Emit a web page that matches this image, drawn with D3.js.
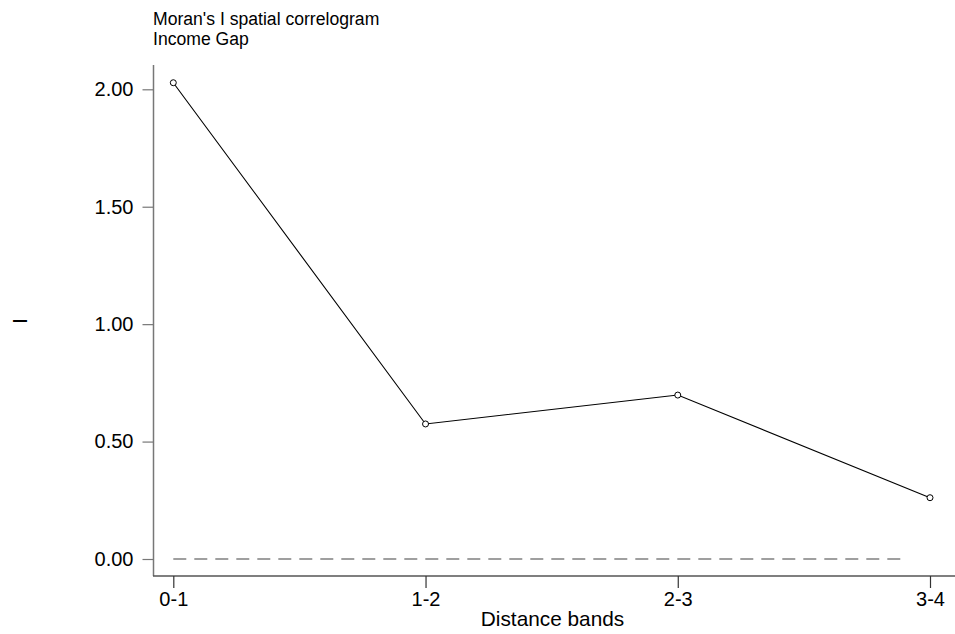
<!DOCTYPE html>
<html><head><meta charset="utf-8">
<script src="https://cdn.jsdelivr.net/npm/d3@7"></script>
<style>body{margin:0;background:#fff}svg{display:block}text{font-family:"Liberation Sans",Arial,sans-serif}</style>
</head><body>
<svg id="c" width="955" height="634"></svg>
<script>
const categories = ["0-1","1-2","2-3","3-4"];
const moransI = [2.028, 0.575, 0.698, 0.261];
const yTicks = [0, 0.5, 1, 1.5, 2];
const titleLines = ["Moran's I spatial correlogram","Income Gap"];

const svg = d3.select("#c");
const x = d3.scalePoint().domain(categories).range([173.3, 930]);
const y = d3.scaleLinear().domain([0, 2]).range([559, 89.3]);

// titles
svg.selectAll("text.title").data(titleLines).join("text")
  .attr("x", 153).attr("y", (d,i)=>25 + i*19.5)
  .attr("font-size", 17.6).attr("fill", "#000").text(d=>d);

// y axis
const yAx = svg.append("g").attr("transform","translate(153.5,0)")
  .call(d3.axisLeft(y).tickValues(yTicks).tickFormat(d3.format(".2f")).tickSize(11).tickPadding(9).tickSizeOuter(0));
yAx.select(".domain").attr("d","M0,65V576").attr("stroke","#777").attr("stroke-width",1.5);
yAx.selectAll(".tick line").attr("stroke","#777").attr("stroke-width",1.2);
yAx.selectAll(".tick text").attr("font-size",20).attr("fill","#000").attr("font-family","Liberation Sans, Arial, sans-serif");

// x axis
const xAx = svg.append("g").attr("transform","translate(0,576)")
  .call(d3.axisBottom(x).tickSize(12).tickPadding(4).tickSizeOuter(0));
xAx.select(".domain").attr("d","M153,0H955").attr("stroke","#555").attr("stroke-width",1.5);
xAx.selectAll(".tick line").attr("stroke","#333").attr("stroke-width",1.2);
xAx.selectAll(".tick text").attr("font-size",20).attr("fill","#000").attr("font-family","Liberation Sans, Arial, sans-serif");

// axis titles
svg.append("text").attr("transform","translate(27,321) rotate(-90)").attr("text-anchor","middle")
  .attr("font-size",21).attr("fill","#000").text("I");
svg.append("text").attr("x",552.5).attr("y",626).attr("text-anchor","middle")
  .attr("font-size",20.8).attr("fill","#000").text("Distance bands");

// zero reference
svg.append("line").attr("x1", x("0-1")).attr("x2", 908).attr("y1", y(0)).attr("y2", y(0))
  .attr("stroke","#808080").attr("stroke-width",1.5).attr("stroke-dasharray","13,8");

// line
const data = categories.map((c,i)=>({c, v: moransI[i]}));
svg.append("path").datum(data)
  .attr("d", d3.line().x(d=>x(d.c)).y(d=>y(d.v)))
  .attr("fill","none").attr("stroke","#000").attr("stroke-width",1.1);
svg.selectAll("circle.pt").data(data).join("circle")
  .attr("cx", d=>x(d.c)).attr("cy", d=>y(d.v)).attr("r",3)
  .attr("fill","#fff").attr("stroke","#000").attr("stroke-width",1);
</script>
</body></html>
